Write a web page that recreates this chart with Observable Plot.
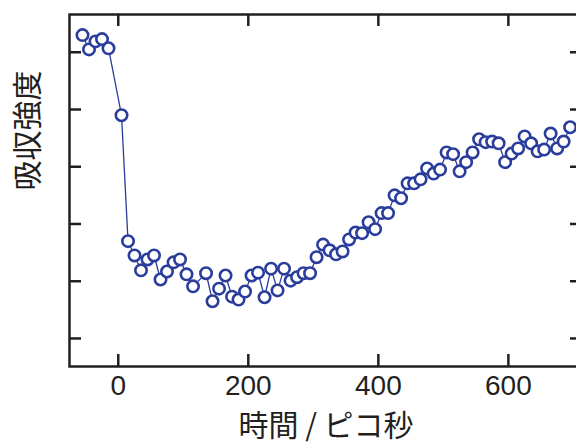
<!DOCTYPE html>
<html><head><meta charset="utf-8">
<script src="https://cdn.jsdelivr.net/npm/d3@7"></script>
<script src="https://cdn.jsdelivr.net/npm/@observablehq/plot@0.6"></script>
<style>html,body{margin:0;padding:0;background:#fff;overflow:hidden}svg{overflow:hidden}</style>
</head><body><div id="chart"></div>
<script>
const times = [-55,-45,-35,-25,-15,5,15,25,35,45,55,65,75,85,95,105,115,135,145,155,165,175,185,195,205,215,225,235,245,255,265,275,285,295,305,315,325,335,345,355,365,375,385,395,405,415,425,435,445,455,465,475,485,495,505,515,525,535,545,555,565,575,585,595,605,615,625,635,645,655,665,675,685,695];
const absorbance = [6.30,6.05,6.19,6.23,6.07,4.90,2.70,2.45,2.19,2.38,2.45,2.03,2.17,2.33,2.38,2.12,1.91,2.14,1.65,1.87,2.10,1.73,1.68,1.82,2.10,2.15,1.72,2.22,1.84,2.22,2.01,2.07,2.14,2.14,2.42,2.64,2.54,2.47,2.52,2.73,2.85,2.84,3.03,2.91,3.19,3.19,3.50,3.45,3.71,3.71,3.78,3.97,3.88,3.95,4.25,4.22,3.92,4.08,4.25,4.48,4.43,4.44,4.41,4.08,4.23,4.32,4.53,4.41,4.27,4.30,4.58,4.32,4.44,4.69];
const xTicks = [0,200,400,600];
const xTickLabels = ["0","200","400","600"];
const yTicks = [1,2,3,4,5,6];
const xLabel = "時間 / ピコ秒";
const yLabel = "吸収強度";

const data = times.map((t,i)=>({t, v: absorbance[i]}));
const xTickData = xTicks.map((x,i)=>({x, label: xTickLabels[i]}));
const W=576,H=443, mL=69, mT=14, mB=77, mR=-6;
const pw = W-mL-mR, ph = H-mT-mB;
const ink="#231f20", blue="#2b3d9c";
const tickLen=12;
const cjk = "'Noto Sans CJK JP', sans-serif";
const chart = Plot.plot({
  width: W, height: H, marginLeft: mL, marginRight: mR, marginTop: mT, marginBottom: mB,
  x: {domain: [-75, 714], axis: null},
  y: {domain: [0.51, 6.66], axis: null},
  marks: [
    Plot.tickX(xTicks, {x: d=>d, stroke: ink, strokeWidth: 2.5, insetTop: ph - tickLen}),
    Plot.tickX(xTicks, {x: d=>d, stroke: ink, strokeWidth: 2.5, insetBottom: ph - tickLen}),
    Plot.tickY(yTicks, {y: d=>d, stroke: ink, strokeWidth: 2.5, insetRight: pw - tickLen}),
    Plot.tickY(yTicks, {y: d=>d, stroke: ink, strokeWidth: 2.5, insetLeft: pw - tickLen}),
    Plot.frame({stroke: ink, strokeWidth: 2.5}),
    Plot.line(data, {x:"t", y:"v", stroke: blue, strokeWidth: 1.3}),
    Plot.dot(data, {x:"t", y:"v", r:5.7, stroke: blue, strokeWidth: 2.6, fill:"white"}),
    Plot.text(xTickData, {x:"x", text:"label", frameAnchor:"bottom", dy: 28, fontSize: 28, fill: ink, fontFamily: "'Liberation Sans', Arial, sans-serif"}),
    Plot.text([xLabel], {text: d=>d, frameAnchor:"bottom", dy: 69, fontSize: 30, fill: ink, fontFamily: cjk}),
    Plot.text([yLabel], {text: d=>d, frameAnchor:"left", dx: -41, rotate: -90, fontSize: 30, fill: ink, fontFamily: cjk})
  ]
});
document.getElementById("chart").appendChild(chart);
</script></body></html>
